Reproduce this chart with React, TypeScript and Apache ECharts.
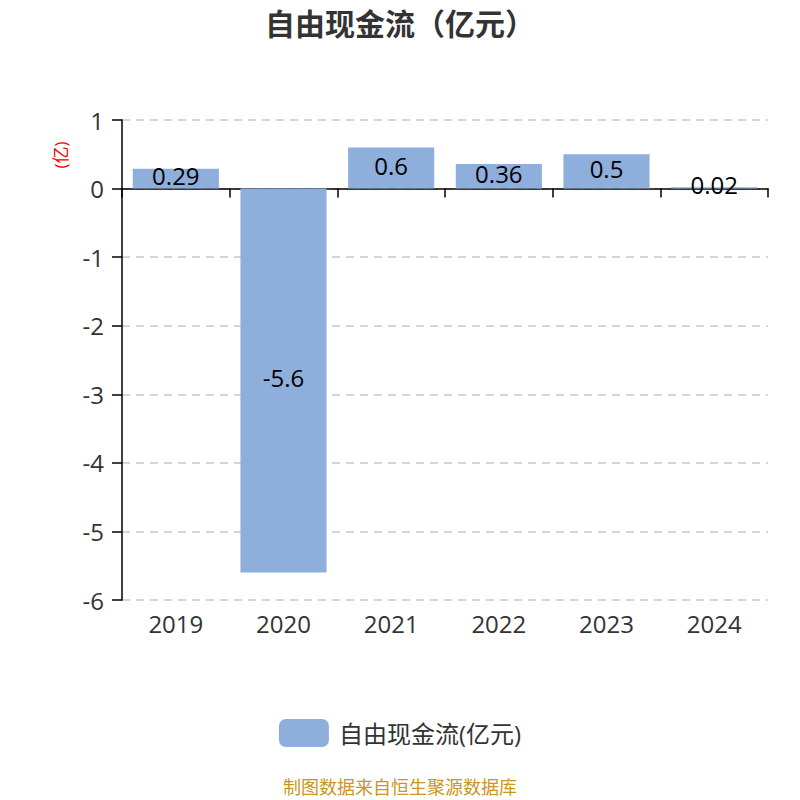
import React, { useEffect, useRef } from "react";
import * as echarts from "echarts";

const categories = ["2019", "2020", "2021", "2022", "2023", "2024"];
const values = [0.29, -5.6, 0.6, 0.36, 0.5, 0.02];
const seriesName = "自由现金流(亿元)";
const titleText = "自由现金流（亿元）";
const unitText = "(亿)";
const sourceText = "制图数据来自恒生聚源数据库";

const FONT = "'Open Sans', 'Noto Sans CJK SC', sans-serif";

export default function App() {
  const ref = useRef<HTMLDivElement>(null);
  useEffect(() => {
    document.body.style.margin = "0";
    const chart = echarts.init(ref.current!, null, { renderer: "svg" });
    chart.setOption({
      animation: false,
      textStyle: { fontFamily: FONT },
      title: {
        text: titleText,
        left: "center",
        top: 3,
        textStyle: { fontSize: 30, fontWeight: "bold", color: "#333", fontFamily: FONT },
      },
      legend: {
        bottom: 48,
        left: "center",
        itemWidth: 50,
        itemHeight: 28,
        itemGap: 10,
        icon: "roundRect",
        textStyle: { fontSize: 24, color: "#333", fontFamily: FONT, padding: [0, 0, 0, 5] },
        data: [seriesName],
      },
      grid: { left: 122, right: 32, top: 120, bottom: 200 },
      xAxis: [
        {
          type: "category",
          data: categories,
          position: "bottom",
          axisLine: { show: false, onZero: false },
          axisTick: { show: false },
          axisLabel: { fontSize: 24, color: "#333", margin: 11, fontFamily: FONT },
        },
        {
          type: "category",
          data: categories,
          position: "bottom",
          axisLine: { show: true, onZero: true, lineStyle: { color: "#000", width: 1.5 } },
          axisTick: { show: true, length: 9, lineStyle: { color: "#000", width: 1.5 } },
          axisLabel: { show: false },
        },
      ],
      yAxis: {
        type: "value",
        min: -6,
        max: 1,
        interval: 1,
        axisLine: { show: true, lineStyle: { color: "#000", width: 1.5 } },
        axisTick: { show: true, length: 10, lineStyle: { color: "#000", width: 1.5 } },
        axisLabel: { fontSize: 24, color: "#333", margin: 18, fontFamily: FONT, padding: [0, 0, 3, 0] },
        splitLine: { show: true, lineStyle: { type: [8, 6], color: "#c8c8c8", width: 1.5 } },
      },
      graphic: [
        {
          type: "text",
          x: 60,
          y: 155,
          rotation: Math.PI / 2,
          style: {
            text: unitText,
            fill: "#e00",
            fontSize: 17,
            fontFamily: FONT,
            align: "center",
            verticalAlign: "middle",
          },
        },
        {
          type: "text",
          left: "center",
          top: 778,
          style: {
            text: sourceText,
            fill: "#c9961e",
            fontSize: 18,
            fontFamily: FONT,
          },
        },
      ],
      series: [
        {
          name: seriesName,
          type: "bar",
          xAxisIndex: 0,
          data: values,
          barWidth: "80%",
          itemStyle: { color: "#8eaedb" },
          label: {
            show: true,
            position: "inside",
            offset: [0, -3],
            color: "#000",
            fontSize: 24,
            fontFamily: FONT,
          },
        },
      ],
    });
    return () => chart.dispose();
  }, []);
  return <div ref={ref} style={{ width: 800, height: 800 }} />;
}
